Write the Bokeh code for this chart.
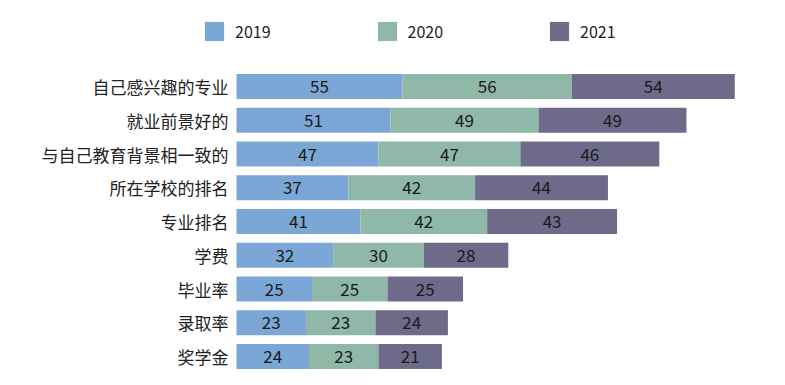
from bokeh.plotting import figure
from bokeh.models import ColumnDataSource, Range1d, Legend, LegendItem
from bokeh.core.properties import value
from bokeh.embed import file_html
from bokeh.resources import INLINE

categories = ["自己感兴趣的专业", "就业前景好的", "与自己教育背景相一致的", "所在学校的排名",
              "专业排名", "学费", "毕业率", "录取率", "奖学金"]
years = ["2019", "2020", "2021"]
v2019 = [55, 51, 47, 37, 41, 32, 25, 23, 24]
v2020 = [56, 49, 47, 42, 42, 30, 25, 23, 23]
v2021 = [54, 49, 46, 44, 43, 28, 25, 24, 21]
colors = ["#7ba7d7", "#8fb8a8", "#6e6a8a"]

FONT = "Noto Sans CJK SC"
W, H = 777, 377
PX_X = 3.02      # px per value unit
PX_Y = 33.75     # px per row
X0 = 236         # px where value 0 sits
n = len(categories)
ypos = [n - 1 - i for i in range(n)]  # top row first

p = figure(width=W, height=H, output_backend="svg", toolbar_location=None,
           x_range=Range1d(-X0 / PX_X, (W - X0) / PX_X),
           y_range=Range1d(-(H - 356) / PX_Y, (n - 1) + 86 / PX_Y),
           min_border=0)
p.outline_line_color = None
p.xgrid.visible = False
p.ygrid.visible = False
p.xaxis.visible = False
p.yaxis.visible = False

src = ColumnDataSource(dict(y=ypos, cat=categories, y2019=v2019, y2020=v2020, y2021=v2021))
renderers = p.hbar_stack(["y2019", "y2020", "y2021"], y="y", height=0.74, color=colors,
                         source=src, line_color=None)

# category labels
p.text(x=0, y="y", text="cat", source=src, x_offset=-8, text_align="right",
       text_baseline="middle", text_font=value(FONT), text_font_size="17px",
       text_color="#222222")

# segment labels
series = [v2019, v2020, v2021]
lx, ly, lt = [], [], []
for i in range(n):
    start = 0
    for s in series:
        lx.append(start + s[i] / 2)
        ly.append(ypos[i])
        lt.append(str(s[i]))
        start += s[i]
p.text(x=lx, y=ly, text=lt, text_align="center", text_baseline="middle",
       text_font=value(FONT), text_font_size="17px", text_color="#1a1a1a")

items = [LegendItem(label=y, renderers=[r]) for y, r in zip(years, renderers)]
legend = Legend(items=items, orientation="horizontal", location=(202, H - 43),
                glyph_width=24, glyph_height=24, label_height=24, label_standoff=9,
                spacing=104, padding=0, margin=0, border_line_color=None,
                background_fill_alpha=0, label_text_font=FONT, label_text_font_size="16px",
                label_text_color="#222222")
p.add_layout(legend, "center")

open("out.html", "w").write(file_html(p, INLINE))
